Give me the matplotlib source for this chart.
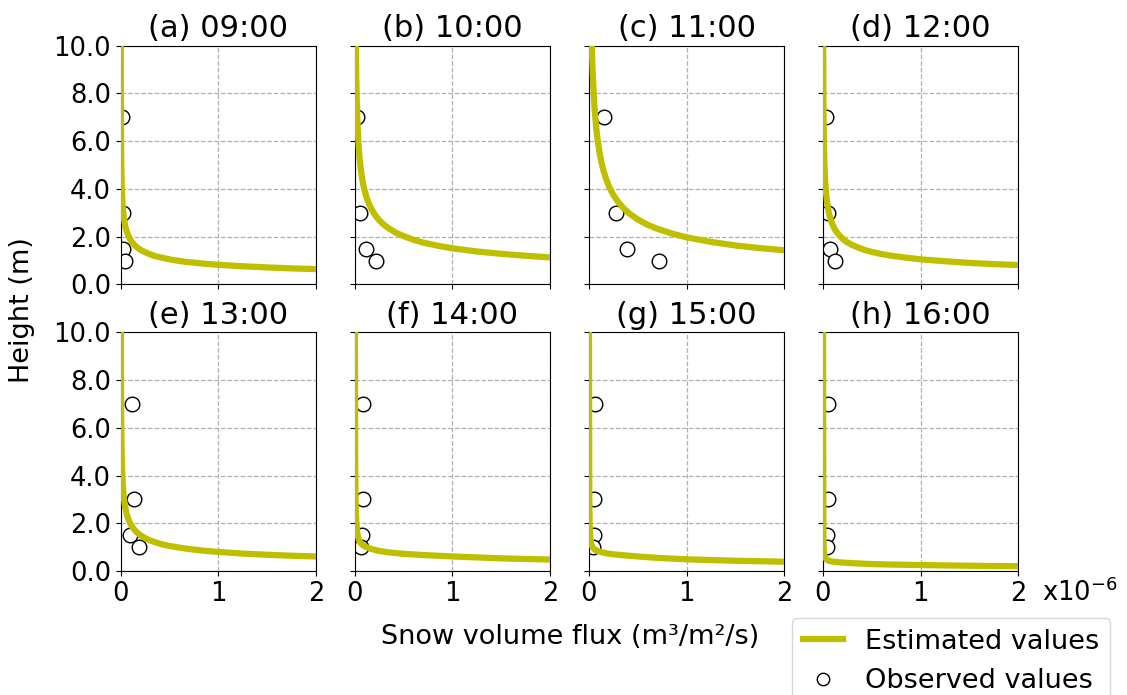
import numpy as np
import matplotlib
matplotlib.use("Agg")
import matplotlib.pyplot as plt
from matplotlib.ticker import FormatStrFormatter

# panel titles
titles = ["(a) 09:00", "(b) 10:00", "(c) 11:00", "(d) 12:00",
          "(e) 13:00", "(f) 14:00", "(g) 15:00", "(h) 16:00"]

# observation heights (m)
obs_height = [7.0, 3.0, 1.5, 1.0]

# observed snow volume flux (x1e-6 m3/m2/s), one row per hour
obs_flux = [
    [0.018, 0.025, 0.027, 0.044],
    [0.020, 0.058, 0.110, 0.215],
    [0.154, 0.276, 0.390, 0.713],
    [0.034, 0.055, 0.068, 0.123],
    [0.116, 0.133, 0.100, 0.184],
    [0.082, 0.082, 0.072, 0.065],
    [0.058, 0.055, 0.055, 0.045],
    [0.051, 0.051, 0.044, 0.044],
]

# estimated profiles: flux (x1e-6) and corresponding height (m)
est_flux = [
    [2.0, 1.75, 1.5, 1.25, 1.0, 0.85, 0.7, 0.6, 0.5, 0.42, 0.35, 0.3, 0.25, 0.21, 0.18, 0.15,
     0.13, 0.11, 0.09, 0.075, 0.06, 0.05, 0.04, 0.032, 0.025, 0.02, 0.015, 0.011, 0.008, 0.006,
     0.004, 0.002, 0.0009],
    [2.0, 1.75, 1.5, 1.25, 1.0, 0.85, 0.7, 0.6, 0.5, 0.42, 0.35, 0.3, 0.25, 0.21, 0.18, 0.15,
     0.13, 0.11, 0.09, 0.075, 0.06, 0.05, 0.04, 0.032, 0.025, 0.02, 0.015, 0.011],
    [2.0, 1.75, 1.5, 1.25, 1.0, 0.85, 0.7, 0.6, 0.5, 0.42, 0.35, 0.3, 0.25, 0.21, 0.18, 0.15,
     0.13, 0.11, 0.09, 0.075, 0.06, 0.05, 0.04, 0.035, 0.03],
    [2.0, 1.75, 1.5, 1.25, 1.0, 0.85, 0.7, 0.6, 0.5, 0.42, 0.35, 0.3, 0.25, 0.21, 0.18, 0.15,
     0.13, 0.11, 0.09, 0.075, 0.06, 0.05, 0.04, 0.032, 0.025, 0.02, 0.015, 0.011, 0.008, 0.006,
     0.004, 0.0024],
    [2.0, 1.75, 1.5, 1.25, 1.0, 0.85, 0.7, 0.6, 0.5, 0.42, 0.35, 0.3, 0.25, 0.21, 0.18, 0.15,
     0.13, 0.11, 0.09, 0.075, 0.06, 0.05, 0.04, 0.032, 0.025, 0.02, 0.015, 0.011, 0.008, 0.006,
     0.004, 0.0016],
    [2.0, 1.5, 1.0, 0.7, 0.5, 0.35, 0.25, 0.18, 0.13, 0.09, 0.06, 0.04, 0.025, 0.015, 0.008, 0.004, 0.0015],
    [2.0, 1.5, 1.0, 0.7, 0.5, 0.35, 0.25, 0.18, 0.13, 0.09, 0.06, 0.04, 0.025, 0.015, 0.008, 0.004, 0.001],
    [2.0, 1.5, 1.0, 0.7, 0.5, 0.35, 0.25, 0.18, 0.13, 0.09, 0.06, 0.04, 0.025, 0.015, 0.008, 0.004, 0.001],
]
est_height = [
    [0.64, 0.67, 0.71, 0.76, 0.82, 0.87, 0.93, 0.98, 1.05, 1.12, 1.19, 1.26, 1.35, 1.43, 1.51, 1.61,
     1.70, 1.80, 1.94, 2.07, 2.24, 2.39, 2.59, 2.80, 3.06, 3.31, 3.67, 4.10, 4.60, 5.09,
     5.89, 7.54, 10.0],
    [1.13, 1.20, 1.28, 1.38, 1.51, 1.62, 1.75, 1.87, 2.02, 2.17, 2.34, 2.49, 2.69, 2.89, 3.09, 3.33,
     3.53, 3.79, 4.12, 4.44, 4.88, 5.26, 5.77, 6.34, 7.02, 7.71, 8.69, 10.0],
    [1.43, 1.52, 1.63, 1.78, 1.97, 2.13, 2.33, 2.50, 2.72, 2.95, 3.21, 3.45, 3.75, 4.07, 4.37, 4.76,
     5.09, 5.50, 6.04, 6.57, 7.29, 7.93, 8.80, 9.36, 10.0],
    [0.81, 0.85, 0.90, 0.97, 1.05, 1.12, 1.20, 1.27, 1.36, 1.45, 1.56, 1.65, 1.76, 1.88, 2.00, 2.14,
     2.25, 2.40, 2.59, 2.77, 3.01, 3.23, 3.51, 3.81, 4.18, 4.54, 5.06, 5.69, 6.40, 7.13,
     8.30, 10.0],
    [0.61, 0.64, 0.68, 0.73, 0.80, 0.85, 0.92, 0.98, 1.05, 1.12, 1.21, 1.28, 1.38, 1.48, 1.57, 1.68,
     1.78, 1.90, 2.06, 2.21, 2.41, 2.59, 2.83, 3.08, 3.40, 3.71, 4.15, 4.69, 5.31, 5.94,
     6.97, 10.0],
    [0.48, 0.53, 0.61, 0.67, 0.72, 0.78, 0.84, 0.91, 0.98, 1.06, 1.17, 1.32, 1.60, 2.10, 2.90, 4.30, 10.0],
    [0.39, 0.43, 0.49, 0.55, 0.61, 0.66, 0.70, 0.74, 0.79, 0.84, 0.90, 0.98, 1.10, 1.35, 1.90, 3.00, 10.0],
    [0.20, 0.22, 0.25, 0.27, 0.29, 0.32, 0.34, 0.36, 0.38, 0.40, 0.43, 0.47, 0.53, 0.62, 0.85, 1.50, 10.0],
]

fig, axes = plt.subplots(2, 4, figsize=(11.27, 6.95), dpi=100, sharex=True, sharey=True)
plt.subplots_adjust(left=0.1071, right=0.9036, top=0.9342, bottom=0.1784,
                    wspace=0.198, hspace=0.201)

for i, ax in enumerate(axes.flat):
    obs, = ax.plot(obs_flux[i], obs_height, linestyle="none", marker="o",
                   markersize=10.5, markerfacecolor="white",
                   markeredgecolor="black", markeredgewidth=1.0, zorder=2)
    est, = ax.plot(est_flux[i], est_height[i], color="y", linewidth=4.5,
                   solid_joinstyle="round", zorder=3)
    ax.set_title(titles[i], fontsize=22, pad=6)
    ax.grid(True, linestyle="--", color="#b0b0b0", linewidth=0.9)
    ax.set_xlim(0, 2)
    ax.set_ylim(0, 10)
    ax.set_xticks([0, 1, 2])
    ax.set_yticks([0, 2, 4, 6, 8, 10])
    ax.yaxis.set_major_formatter(FormatStrFormatter("%.1f"))
    ax.tick_params(labelsize=18.5)
    ax.set_axisbelow(True)

axes[1, 3].text(1.12, -0.09, "x10$^{-6}$", transform=axes[1, 3].transAxes,
                ha="left", va="center", fontsize=18.5)

fig.text(22 / 1127, 1 - 310 / 695, "Height (m)", rotation=90,
         ha="center", va="center", fontsize=19.5)
fig.text(570 / 1127, 1 - 637 / 695, "Snow volume flux (m³/m²/s)",
         ha="center", va="center", fontsize=19.5)

fig.legend([est, obs], ["Estimated values", "Observed values"],
           loc="upper left", bbox_to_anchor=(792 / 1127, 1 - 618 / 695),
           borderaxespad=0, fontsize=19.5, handlelength=1.5, markerscale=0.85)

plt.savefig("out.png", dpi=100)
